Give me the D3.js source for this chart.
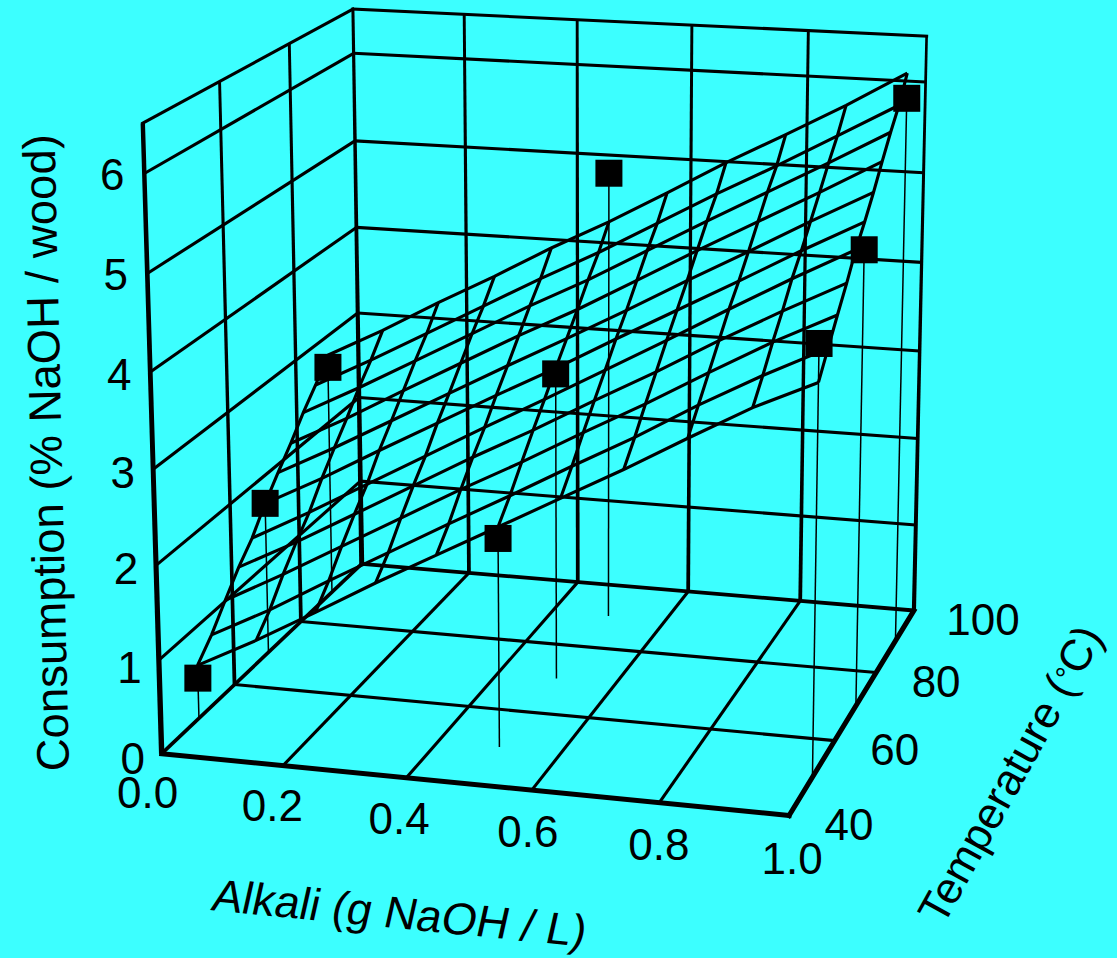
<!DOCTYPE html>
<html><head><meta charset="utf-8"><style>
html,body{margin:0;padding:0;background:#3CFFFF}
svg{display:block}
text{font-family:"Liberation Sans",Arial,sans-serif;fill:#000}
</style></head><body>
<svg id="c" width="1117" height="958"></svg>
<script src="https://cdn.jsdelivr.net/npm/d3@7"></script>
<script>
// ---- data ----
const alkaliTicks = [0, 0.2, 0.4, 0.6, 0.8, 1.0];
const tempTicks = [40, 60, 80, 100];
const consTicks = [0, 1, 2, 3, 4, 5, 6];
const meshAlkali = [0, .1, .2, .3, .4, .5, .6, .7, .8, .9, 1];
const meshTemp = [50, 54, 58, 62, 66, 70, 74, 78, 82, 86, 90];
const meshZ = [
 [0.58,0.91,1.27,1.64,1.99,2.34,2.69,3.04,3.41,3.77,4.07],
 [0.77,1.10,1.47,1.83,2.19,2.54,2.90,3.25,3.63,3.98,4.30],
 [1.01,1.35,1.71,2.07,2.43,2.77,3.13,3.48,3.85,4.21,4.53],
 [1.24,1.57,1.93,2.29,2.65,2.99,3.35,3.70,4.07,4.42,4.75],
 [1.43,1.77,2.13,2.49,2.85,3.20,3.56,3.92,4.29,4.65,4.99],
 [1.69,2.02,2.38,2.73,3.08,3.42,3.78,4.13,4.48,4.84,5.18],
 [1.91,2.24,2.59,2.94,3.29,3.63,3.98,4.34,4.69,5.05,5.39],
 [2.12,2.45,2.81,3.16,3.51,3.84,4.20,4.56,4.91,5.26,5.62],
 [2.35,2.68,3.03,3.38,3.73,4.06,4.42,4.78,5.13,5.48,5.84],
 [2.55,2.88,3.23,3.58,3.93,4.26,4.62,4.98,5.32,5.68,6.04],
 [2.78,3.11,3.47,3.81,4.17,4.50,4.86,5.23,5.57,5.92,6.30]
];
const pointAlkali = [0, 0, 0, 0.5, 0.5, 0.5, 1, 1, 1];
const pointTemp = [50, 70, 90, 50, 70, 90, 50, 70, 90];
const pointCons = [0.44, 1.69, 2.64, 2.22, 3.36, 5.04, 4.46, 4.89, 6.03];

// ---- scales and perspective camera ----
const sa = d3.scaleLinear().domain([0, 1]).range([0, 1]);
const st = d3.scaleLinear().domain([40, 100]).range([0, 1]);
const sz = d3.scaleLinear().domain([0, 6.5]).range([0, 1]);
const cam = [594.916,252.620,-24.8748,161.679, 28.3148,-107.814,-635.760,753.657, -0.0411517,0.145415,-0.0419545];
function project(alk, tmp, con) {
  const a = sa(alk), t = st(tmp), z = sz(con);
  const w = cam[8]*a + cam[9]*t + cam[10]*z + 1;
  return [(cam[0]*a + cam[1]*t + cam[2]*z + cam[3]) / w,
          (cam[4]*a + cam[5]*t + cam[6]*z + cam[7]) / w];
}
const svg = d3.select('#c');
const line = d3.line();
const zTop = sz.domain()[1], aMin = 0, aMax = 1, tMin = 40, tMax = 100;

function stroke(pts, w, cap) {
  svg.append('path').attr('d', line(pts)).attr('fill', 'none').attr('stroke', '#000')
    .attr('stroke-width', w).attr('stroke-linecap', cap || 'butt').attr('stroke-linejoin', 'miter');
}
function taper(p0, p1, w0, w1) {
  const dx = p1[0]-p0[0], dy = p1[1]-p0[1], L = Math.hypot(dx, dy), nx = -dy/L, ny = dx/L;
  svg.append('path').attr('fill', '#000').attr('d', line([
    [p0[0]+nx*w0/2, p0[1]+ny*w0/2], [p1[0]+nx*w1/2, p1[1]+ny*w1/2],
    [p1[0]-nx*w1/2, p1[1]-ny*w1/2], [p0[0]-nx*w0/2, p0[1]-ny*w0/2]]) + 'Z');
}
const gw = 3.1;
// floor grid
alkaliTicks.slice(1, -1).forEach(a => stroke([project(a, tMin, 0), project(a, tMax, 0)], gw));
tempTicks.slice(1, -1).forEach(t => stroke([project(aMin, t, 0), project(aMax, t, 0)], gw));
// left wall
consTicks.slice(1).forEach(z => stroke([project(aMin, tMin, z), project(aMin, tMax, z)], gw));
tempTicks.slice(1, -1).forEach(t => taper(project(aMin, t, 0), project(aMin, t, zTop), 3.8, 2.9));
stroke([project(aMin, tMin, zTop), project(aMin, tMax, zTop)], gw, 'square');
// back wall
consTicks.slice(1).forEach(z => stroke([project(aMin, tMax, z), project(aMax, tMax, z)], gw));
alkaliTicks.slice(1, -1).forEach(a => taper(project(a, tMax, 0), project(a, tMax, zTop), 3.8, 2.9));
stroke([project(aMin, tMax, zTop), project(aMax, tMax, zTop)], gw, 'square');
// box edges
taper(project(aMin, tMax, 0), project(aMin, tMax, zTop), 5, 3);
taper(project(aMax, tMax, 0), project(aMax, tMax, zTop), 4.2, 2.6);
stroke([project(aMin, tMin, 0), project(aMin, tMax, 0)], 3.6);
stroke([project(aMin, tMax, 0), project(aMax, tMax, 0)], 3.8);
taper(project(aMin, tMin, 0), project(aMin, tMin, zTop), 5.4, 4.4);
stroke([project(aMin, tMin, 0), project(aMax, tMin, 0)], 5, 'square');
stroke([project(aMax, tMin, 0), project(aMax, tMax, 0)], 5, 'square');

// stems
pointCons.forEach((z, i) => {
  stroke([project(pointAlkali[i], pointTemp[i], z), project(pointAlkali[i], pointTemp[i], 0)], 1.5);
});
// mesh
meshTemp.forEach((t, j) => stroke(meshAlkali.map((a, i) => project(a, t, meshZ[j][i])), gw));
meshAlkali.forEach((a, i) => stroke(meshTemp.map((t, j) => project(a, t, meshZ[j][i])), gw));
// markers
const size = 27;
svg.append('g').selectAll('rect').data(pointCons).join('rect')
  .attr('x', (z, i) => project(pointAlkali[i], pointTemp[i], z)[0] - size/2)
  .attr('y', (z, i) => project(pointAlkali[i], pointTemp[i], z)[1] - size/2)
  .attr('width', size).attr('height', size).attr('fill', '#000');

// tick labels
const fs = 44;
function label(txt, x, y) {
  svg.append('text').text(txt).attr('x', x).attr('y', y).attr('text-anchor', 'middle')
    .attr('dominant-baseline', 'central').attr('font-size', fs);
}
const fmt = d3.format('.1f');
alkaliTicks.forEach(a => { const p = project(a, tMin, 0); label(fmt(a), p[0] - 14 + sa(a) * 17, p[1] + 39 + sa(a) * 4); });
tempTicks.forEach(t => { const p = project(aMax, t, 0); label(t, p[0] + 60 + (t >= 100 ? 9 : 0), p[1] + 9); });
consTicks.forEach(z => { const p = project(aMin, tMin, z); label(z, p[0] - 29 - 0.5 * z, p[1] + 4.5 - 0.6 * z + (z === 1 ? 3 : 0)); });

// axis titles
svg.append('text').text('Consumption (% NaOH / wood)').attr('font-size', 45.5)
  .attr('transform', 'translate(69,771) rotate(-91.3)');
svg.append('text').text('Alkali (g NaOH / L)').attr('font-size', 45)
  .attr('transform', 'translate(210,910) rotate(5.6) skewX(-7)');
const tt = svg.append('text').attr('font-size', 44)
  .attr('transform', 'translate(943,927) rotate(-61)');
tt.append('tspan').text('Temperature (');
tt.append('tspan').text('°').attr('font-size', 30).attr('dy', -4);
tt.append('tspan').text('C)').attr('dy', 4);
</script></body></html>
